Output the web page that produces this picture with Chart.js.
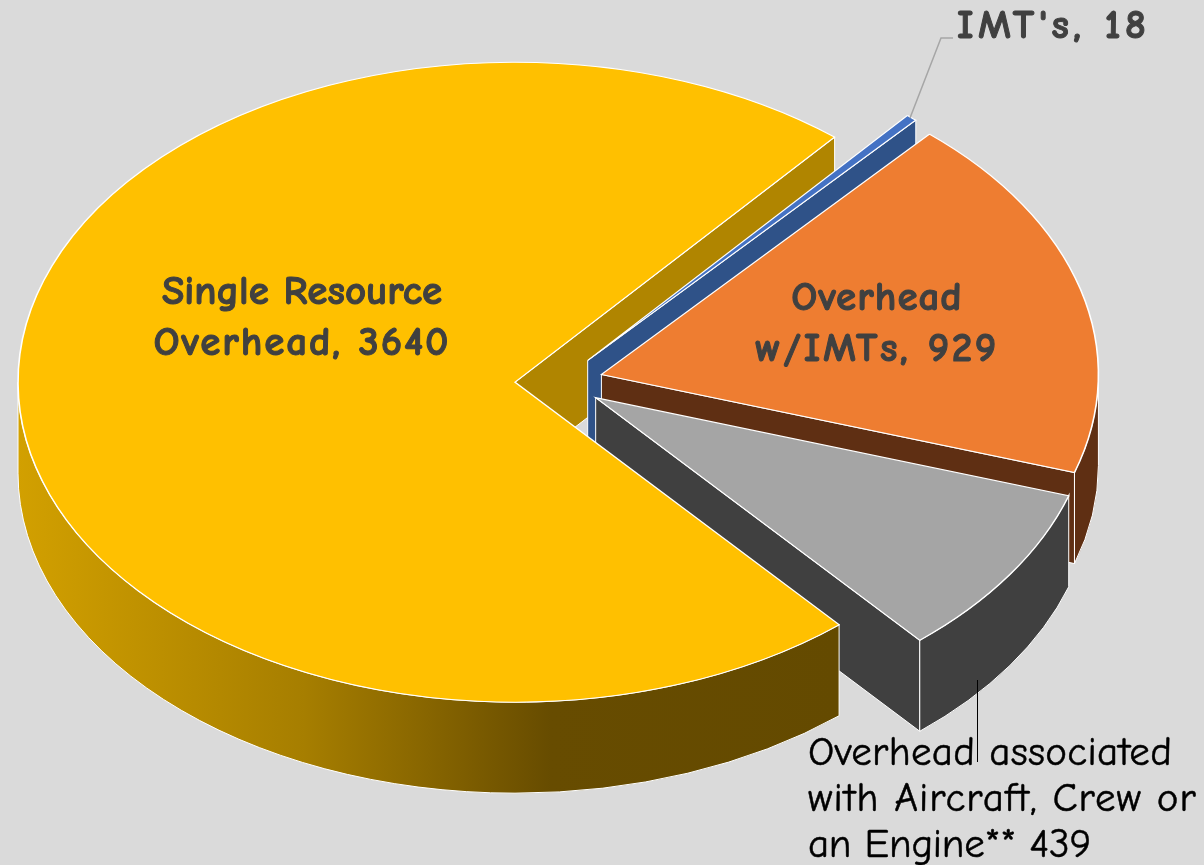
<!DOCTYPE html>
<html>
<head>
<meta charset="utf-8">
<script src="https://cdn.jsdelivr.net/npm/chart.js@4"></script>
<style>
html,body{margin:0;padding:0;background:#dadada;overflow:hidden}
canvas{display:block}
</style>
</head>
<body>
<canvas id="c" width="1204" height="865"></canvas>
<script>
const categories = ["Single Resource Overhead", "IMT's", "Overhead w/IMTs", "Overhead associated with Aircraft, Crew or an Engine**"];
const values = [3640, 18, 929, 439];
const topColors = ["#ffc000", "#4472c4", "#ee7d31", "#a5a5a5"];
const wallColors = ["#644a00", "#2f5288", "#5f2f13", "#404040"];
const cutColors = ["#b08500", "#2f5288", "#5f2f13", "#404040"];
const paintOrder = [1, 2, 3, 0];

const ROTATION = 139.3;
const CENTER = {x: 559, y: 382};
const RX = 497, RY = 320, DEPTH = 91, EXPLODE = 44;
const FONT = '"Comic Sans MS","Comic Neue","Noto Sans","DejaVu Sans",sans-serif';

const textBlocks = [
  {lines: ["Single Resource", "Overhead, 3640"], x: 302, y: [304, 355], spacing: [0, 1.9], font: "bold 41px " + FONT, color: "#404040", align: "center", weight: 1},
  {lines: ["Overhead", "w/IMTs, 929"], x: 877, y: [310, 361], spacing: [1, 2.6], font: "bold 41px " + FONT, color: "#404040", align: "center", weight: 1},
  {lines: ["IMT's, 18"], x: 957, y: [38], spacing: [4.4], font: "bold 41px " + FONT, color: "#404040", align: "left", weight: 1},
  {lines: ["Overhead associated", "with Aircraft, Crew or", "an Engine** 439"], x: 808, y: [765, 811, 857], spacing: [0.3, 1, -0.3], font: "41px " + FONT, color: "#000000", align: "left", weight: 0.5}
];

function sliceCenter(arc) {
  const mid = (arc.startAngle + arc.endAngle) / 2;
  return {
    x: CENTER.x + Math.cos(mid) * EXPLODE,
    y: CENTER.y + Math.sin(mid) * EXPLODE * RY / RX
  };
}

function drawCutFace(ctx, arc, i) {
  const {x: cx, y: cy} = sliceCenter(arc);
  const ea = arc.endAngle;
  const px = cx + Math.cos(ea) * RX, py = cy + Math.sin(ea) * RY;
  ctx.save();
  ctx.strokeStyle = "#ffffff";
  ctx.lineWidth = 1;
  ctx.beginPath();
  ctx.moveTo(cx, cy);
  ctx.lineTo(px, py);
  ctx.lineTo(px, py + DEPTH);
  ctx.lineTo(cx, cy + DEPTH);
  ctx.closePath();
  ctx.fillStyle = cutColors[i];
  ctx.fill();
  ctx.stroke();
  ctx.restore();
}

function drawOuterWall(ctx, arc, i) {
  const {x: cx, y: cy} = sliceCenter(arc);
  ctx.save();
  ctx.strokeStyle = "#ffffff";
  ctx.lineWidth = 1;
  // only the parts turned towards the viewer
  for (const base of [-2 * Math.PI, 0, 2 * Math.PI]) {
    const lo = Math.max(arc.startAngle, base);
    const hi = Math.min(arc.endAngle, base + Math.PI);
    if (hi <= lo) continue;
    ctx.beginPath();
    ctx.ellipse(cx, cy, RX, RY, 0, lo, hi, false);
    ctx.ellipse(cx, cy + DEPTH, RX, RY, 0, hi, lo, true);
    ctx.closePath();
    if (i === 0) {
      const g = ctx.createLinearGradient(18, 0, 838, 0);
      g.addColorStop(0, "#d2a000");
      g.addColorStop(0.35, "#a67e00");
      g.addColorStop(0.5, "#876500");
      g.addColorStop(0.65, "#674c00");
      g.addColorStop(1, wallColors[0]);
      ctx.fillStyle = g;
    } else {
      ctx.fillStyle = wallColors[i];
    }
    ctx.fill();
    ctx.stroke();
  }
  ctx.restore();
}

const pie3d = {
  id: "pie3d",
  beforeDatasetDraw(chart, args) {
    const ctx = chart.ctx;
    const arcs = chart.getDatasetMeta(args.index).data;
    const r = arcs[0].outerRadius;
    // the largest slice's cut face sits behind all the others
    drawCutFace(ctx, arcs[0], 0);
    for (const i of paintOrder) {
      const arc = arcs[i];
      if (i !== 0) drawCutFace(ctx, arc, i);
      drawOuterWall(ctx, arc, i);
      const c = sliceCenter(arc);
      ctx.save();
      ctx.translate(c.x, c.y);
      ctx.scale(RX / r, RY / r);
      ctx.translate(-arc.x, -arc.y);
      arc.draw(ctx);
      ctx.restore();
    }
    return false;
  },
  afterDraw(chart) {
    const ctx = chart.ctx;
    ctx.save();
    ctx.lineWidth = 1.5;
    ctx.strokeStyle = "#a6a6a6";
    ctx.beginPath();
    ctx.moveTo(910, 118);
    ctx.lineTo(941, 38);
    ctx.lineTo(953, 38);
    ctx.stroke();
    ctx.lineWidth = 1;
    ctx.strokeStyle = "#000000";
    ctx.beginPath();
    ctx.moveTo(977.5, 680);
    ctx.lineTo(977.5, 762);
    ctx.stroke();
    for (const b of textBlocks) {
      ctx.font = b.font;
      ctx.fillStyle = b.color;
      ctx.strokeStyle = b.color;
      ctx.lineWidth = b.weight;
      ctx.lineJoin = "round";
      ctx.textAlign = b.align;
      ctx.textBaseline = "alphabetic";
      b.lines.forEach((t, k) => {
        ctx.letterSpacing = b.spacing[k] + "px";
        ctx.fillText(t, b.x, b.y[k]);
        ctx.strokeText(t, b.x, b.y[k]);
      });
    }
    ctx.restore();
  }
};

new Chart(document.getElementById("c"), {
  type: "pie",
  data: {
    labels: categories,
    datasets: [{
      data: values,
      backgroundColor: topColors,
      borderColor: "#ffffff",
      borderWidth: 1.4,
      borderJoinStyle: "miter",
      offset: 0
    }]
  },
  options: {
    responsive: false,
    animation: false,
    events: [],
    rotation: ROTATION,
    layout: {padding: 0},
    plugins: {legend: {display: false}, tooltip: {enabled: false}}
  },
  plugins: [pie3d]
});
</script>
</body>
</html>
